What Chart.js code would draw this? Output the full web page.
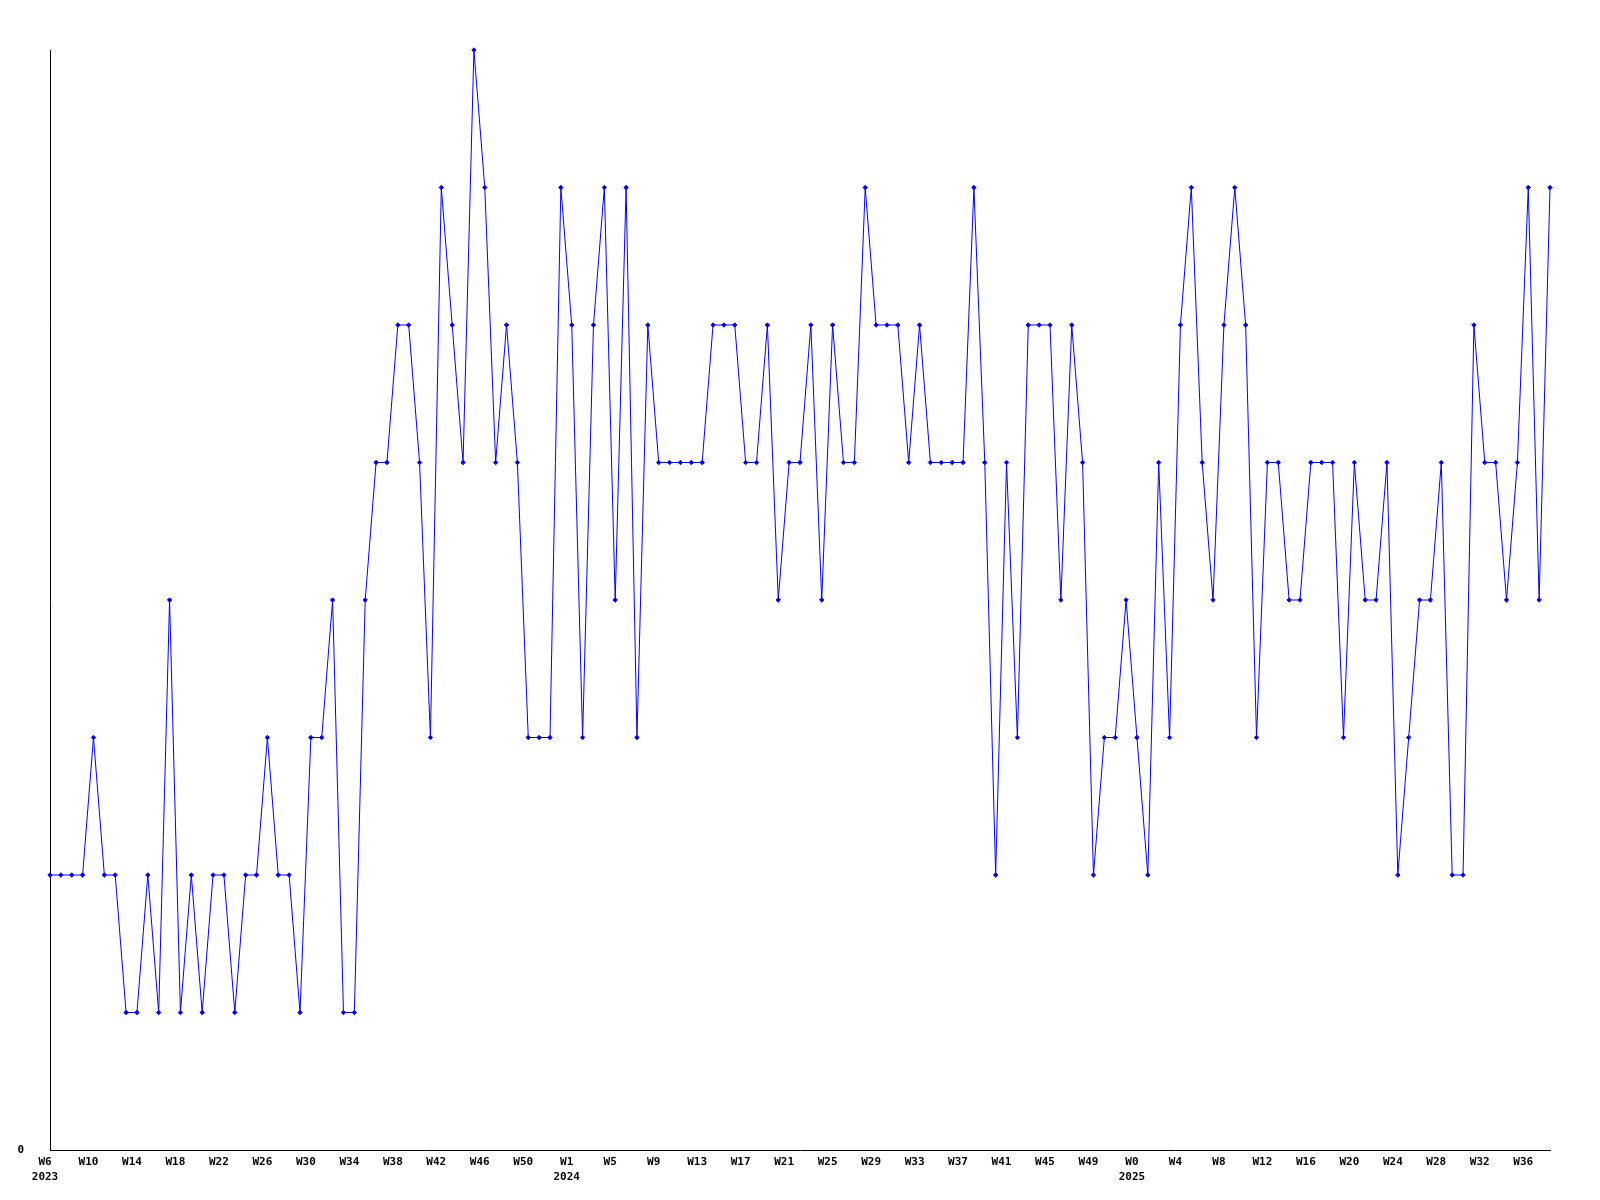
<!DOCTYPE html>
<html>
<head>
<meta charset="utf-8">
<script src="https://cdn.jsdelivr.net/npm/chart.js@4/dist/chart.umd.min.js"></script>
<style>
  html, body { margin: 0; padding: 0; background: #ffffff; }
  #wrap { width: 1600px; height: 1200px; }
</style>
</head>
<body>
<div id="wrap"><canvas id="c" width="1600" height="1200"></canvas></div>
<script>
// Week segments: [year, first week, last week]
const yearSegments = [
  [2023, 6, 53],
  [2024, 1, 52],
  [2025, 0, 38]
];

// Weekly values, one per week from W6 2023 to W38 2025
const values2023 = [
  2, 2, 2, 2, 3, 2, 2, 1, 1, 2, 1, 4, 1, 2, 1, 2,
  2, 1, 2, 2, 3, 2, 2, 1, 3, 3, 4, 1, 1, 4, 5, 5,
  6, 6, 5, 3, 7, 6, 5, 8, 7, 5, 6, 5, 3, 3, 3, 7
];
const values2024 = [
  6, 3, 6, 7, 4, 7, 3, 6, 5, 5, 5, 5, 5, 6, 6, 6,
  5, 5, 6, 4, 5, 5, 6, 4, 6, 5, 5, 7, 6, 6, 6, 5,
  6, 5, 5, 5, 5, 7, 5, 2, 5, 3, 6, 6, 6, 4, 6, 5,
  2, 3, 3, 4
];
const values2025 = [
  3, 2, 5, 3, 6, 7, 5, 4, 6, 7, 6, 3, 5, 5, 4, 4,
  5, 5, 5, 3, 5, 4, 4, 5, 2, 3, 4, 4, 5, 2, 2, 6,
  5, 5, 4, 5, 7, 4, 7
];

const yMin = 0;
const yMax = 8;
const labelEvery = 4;

// Build categories from the segments
const categories = [];
const yearStart = {};
yearSegments.forEach(([yr, a, b]) => {
  yearStart[categories.length] = String(yr);
  for (let w = a; w <= b; w++) categories.push('W' + w);
});
const values = values2023.concat(values2024, values2025);

const tickFont = { family: '"DejaVu Sans Mono", monospace', size: 11, weight: 'bold', lineHeight: 1.36 };

new Chart(document.getElementById('c'), {
  type: 'line',
  data: {
    labels: categories,
    datasets: [{
      data: values,
      borderColor: '#0000ff',
      backgroundColor: '#0000ff',
      borderWidth: 1,
      tension: 0,
      pointStyle: 'rectRot',
      pointRadius: 2.2,
      pointBorderWidth: 1,
      pointBackgroundColor: '#0000ff',
      pointBorderColor: '#0000ff',
      clip: 4
    }]
  },
  options: {
    responsive: false,
    animation: false,
    devicePixelRatio: 1,
    layout: { padding: { top: 50, right: 50, left: 0, bottom: 0 } },
    plugins: { legend: { display: false }, tooltip: { enabled: false }, title: { display: false } },
    scales: {
      x: {
        type: 'category',
        offset: false,
        grid: { display: false, drawTicks: false },
        border: { display: true, color: '#000000', width: 1 },
        ticks: {
          autoSkip: false,
          maxRotation: 0,
          minRotation: 0,
          padding: 5,
          labelOffset: -5,
          color: '#000000',
          font: tickFont,
          callback: function (val, idx) {
            if (idx % labelEvery !== 0) return '';
            const lab = categories[idx];
            if (yearStart[idx] !== undefined) return [lab, yearStart[idx]];
            return lab;
          }
        },
        afterFit: function (s) { s.height = 50; }
      },
      y: {
        min: yMin,
        max: yMax,
        grid: { display: false, drawTicks: false },
        border: { display: true, color: '#000000', width: 1 },
        ticks: {
          stepSize: 1,
          padding: 26,
          color: '#000000',
          font: tickFont,
          callback: function (v) { return v === 0 ? '0' : ''; }
        },
        afterFit: function (s) { s.width = 50; }
      }
    }
  }
});
</script>
</body>
</html>
